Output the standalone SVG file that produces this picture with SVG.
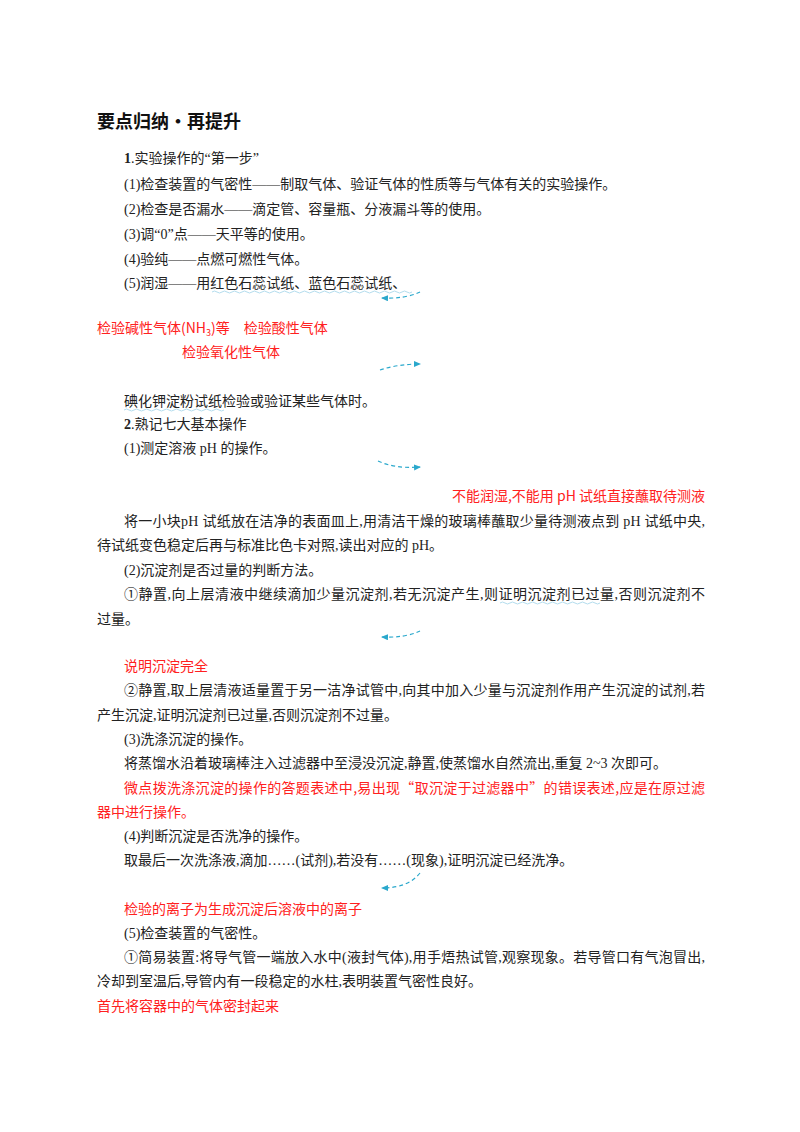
<svg xmlns="http://www.w3.org/2000/svg" width="800" height="1132" viewBox="0 0 800 1132">
<style>
.t{font-family:"Liberation Serif","Noto Sans CJK SC",serif;font-size:14px;fill:#222}
.b{font-weight:bold}
.r{font-family:"Noto Sans CJK SC",sans-serif;font-size:14px;fill:#ff2020}
.h{font-family:"Noto Sans CJK SC",sans-serif;font-size:18px;fill:#111;font-weight:bold}
.w{fill:none;stroke:#9fd3e8;stroke-width:0.8}
.a{fill:none;stroke:#2aa8cc;stroke-width:1.2;stroke-dasharray:4 3}
</style>
<defs>
<marker id="m" markerWidth="8" markerHeight="8" refX="6" refY="3" orient="auto" markerUnits="userSpaceOnUse"><path d="M0,0 L7,3 L0,6 Z" fill="#2aa8cc"/></marker>
<path id="wv" d="M0,0 q2.5,-2 5,0 t5,0 t5,0 t5,0 t5,0 t5,0 t5,0 t5,0 t5,0 t5,0 t5,0 t5,0 t5,0 t5,0 t5,0 t5,0 t5,0 t5,0 t5,0 t5,0"/>
</defs>
<rect width="800" height="1132" fill="#fff"/>
<g id="text">
<text class="h" x="97" y="128">要点归纳·再提升</text>
<text class="t" x="124" y="163"><tspan class="b">1</tspan>.实验操作的“第一步”</text>
<text class="t" x="124" y="189">(1)检查装置的气密性——制取气体、验证气体的性质等与气体有关的实验操作。</text>
<text class="t" x="124" y="214">(2)检查是否漏水——滴定管、容量瓶、分液漏斗等的使用。</text>
<text class="t" x="124" y="239">(3)调“0”点——天平等的使用。</text>
<text class="t" x="124" y="264">(4)验纯——点燃可燃性气体。</text>
<text class="t" x="124" y="288">(5)润湿——用红色石蕊试纸、蓝色石蕊试纸、</text>
<text class="r" x="97" y="333">检验碱性气体(NH<tspan font-size="9" dy="3">3</tspan><tspan dy="-3">)等</tspan>　检验酸性气体</text>
<text class="r" x="182" y="357">检验氧化性气体</text>
<text class="t" x="124" y="406">碘化钾淀粉试纸检验或验证某些气体时。</text>
<text class="t" x="124" y="429"><tspan class="b">2</tspan>.熟记七大基本操作</text>
<text class="t" x="124" y="453">(1)测定溶液 pH 的操作。</text>
<text class="r" x="705" y="501" text-anchor="end">不能润湿,不能用 pH 试纸直接蘸取待测液</text>
<text class="t" x="124" y="526" textLength="581" lengthAdjust="spacing">将一小块pH 试纸放在洁净的表面皿上,用清洁干燥的玻璃棒蘸取少量待测液点到 pH 试纸中央,</text>
<text class="t" x="97" y="550">待试纸变色稳定后再与标准比色卡对照,读出对应的 pH。</text>
<text class="t" x="124" y="575">(2)沉淀剂是否过量的判断方法。</text>
<text class="t" x="124" y="599" textLength="581" lengthAdjust="spacing">①静置,向上层清液中继续滴加少量沉淀剂,若无沉淀产生,则证明沉淀剂已过量,否则沉淀剂不</text>
<text class="t" x="97" y="624">过量。</text>
<text class="r" x="124" y="671">说明沉淀完全</text>
<text class="t" x="124" y="695" textLength="581" lengthAdjust="spacing">②静置,取上层清液适量置于另一洁净试管中,向其中加入少量与沉淀剂作用产生沉淀的试剂,若</text>
<text class="t" x="97" y="720">产生沉淀,证明沉淀剂已过量,否则沉淀剂不过量。</text>
<text class="t" x="124" y="744">(3)洗涤沉淀的操作。</text>
<text class="t" x="124" y="768">将蒸馏水沿着玻璃棒注入过滤器中至浸没沉淀,静置,使蒸馏水自然流出,重复 2~3 次即可。</text>
<text class="r" x="124" y="793" textLength="581" lengthAdjust="spacing">微点拨洗涤沉淀的操作的答题表述中,易出现“取沉淀于过滤器中”的错误表述,应是在原过滤</text>
<text class="r" x="97" y="817">器中进行操作。</text>
<text class="t" x="124" y="841">(4)判断沉淀是否洗净的操作。</text>
<text class="t" x="124" y="865">取最后一次洗涤液,滴加……(试剂),若没有……(现象),证明沉淀已经洗净。</text>
<text class="r" x="124" y="914">检验的离子为生成沉淀后溶液中的离子</text>
<text class="t" x="124" y="938">(5)检查装置的气密性。</text>
<text class="t" x="124" y="962" textLength="581" lengthAdjust="spacing">①简易装置:将导气管一端放入水中(液封气体),用手焐热试管,观察现象。若导管口有气泡冒出,</text>
<text class="t" x="97" y="986">冷却到室温后,导管内有一段稳定的水柱,表明装置气密性良好。</text>
<text class="r" x="97" y="1011">首先将容器中的气体密封起来</text>
</g>
<g id="underlines">
<use href="#wv" x="212" y="292" class="w"/>
<use href="#wv" x="312" y="292" class="w" transform="translate(0,0)"/>
<use href="#wv" x="124" y="410" class="w"/>
<use href="#wv" x="500" y="603" class="w"/>
</g>
<g id="connectors">
<path class="a" d="M420,292 Q405,299 382,298" marker-end="url(#m)"/>
<path class="a" d="M380,370 Q398,364 420,364" marker-end="url(#m)"/>
<path class="a" d="M378,461 Q395,469 420,467" marker-end="url(#m)"/>
<path class="a" d="M420,631 Q405,638 382,637" marker-end="url(#m)"/>
<path class="a" d="M420,873 Q408,888 382,888" marker-end="url(#m)"/>
</g>
</svg>
